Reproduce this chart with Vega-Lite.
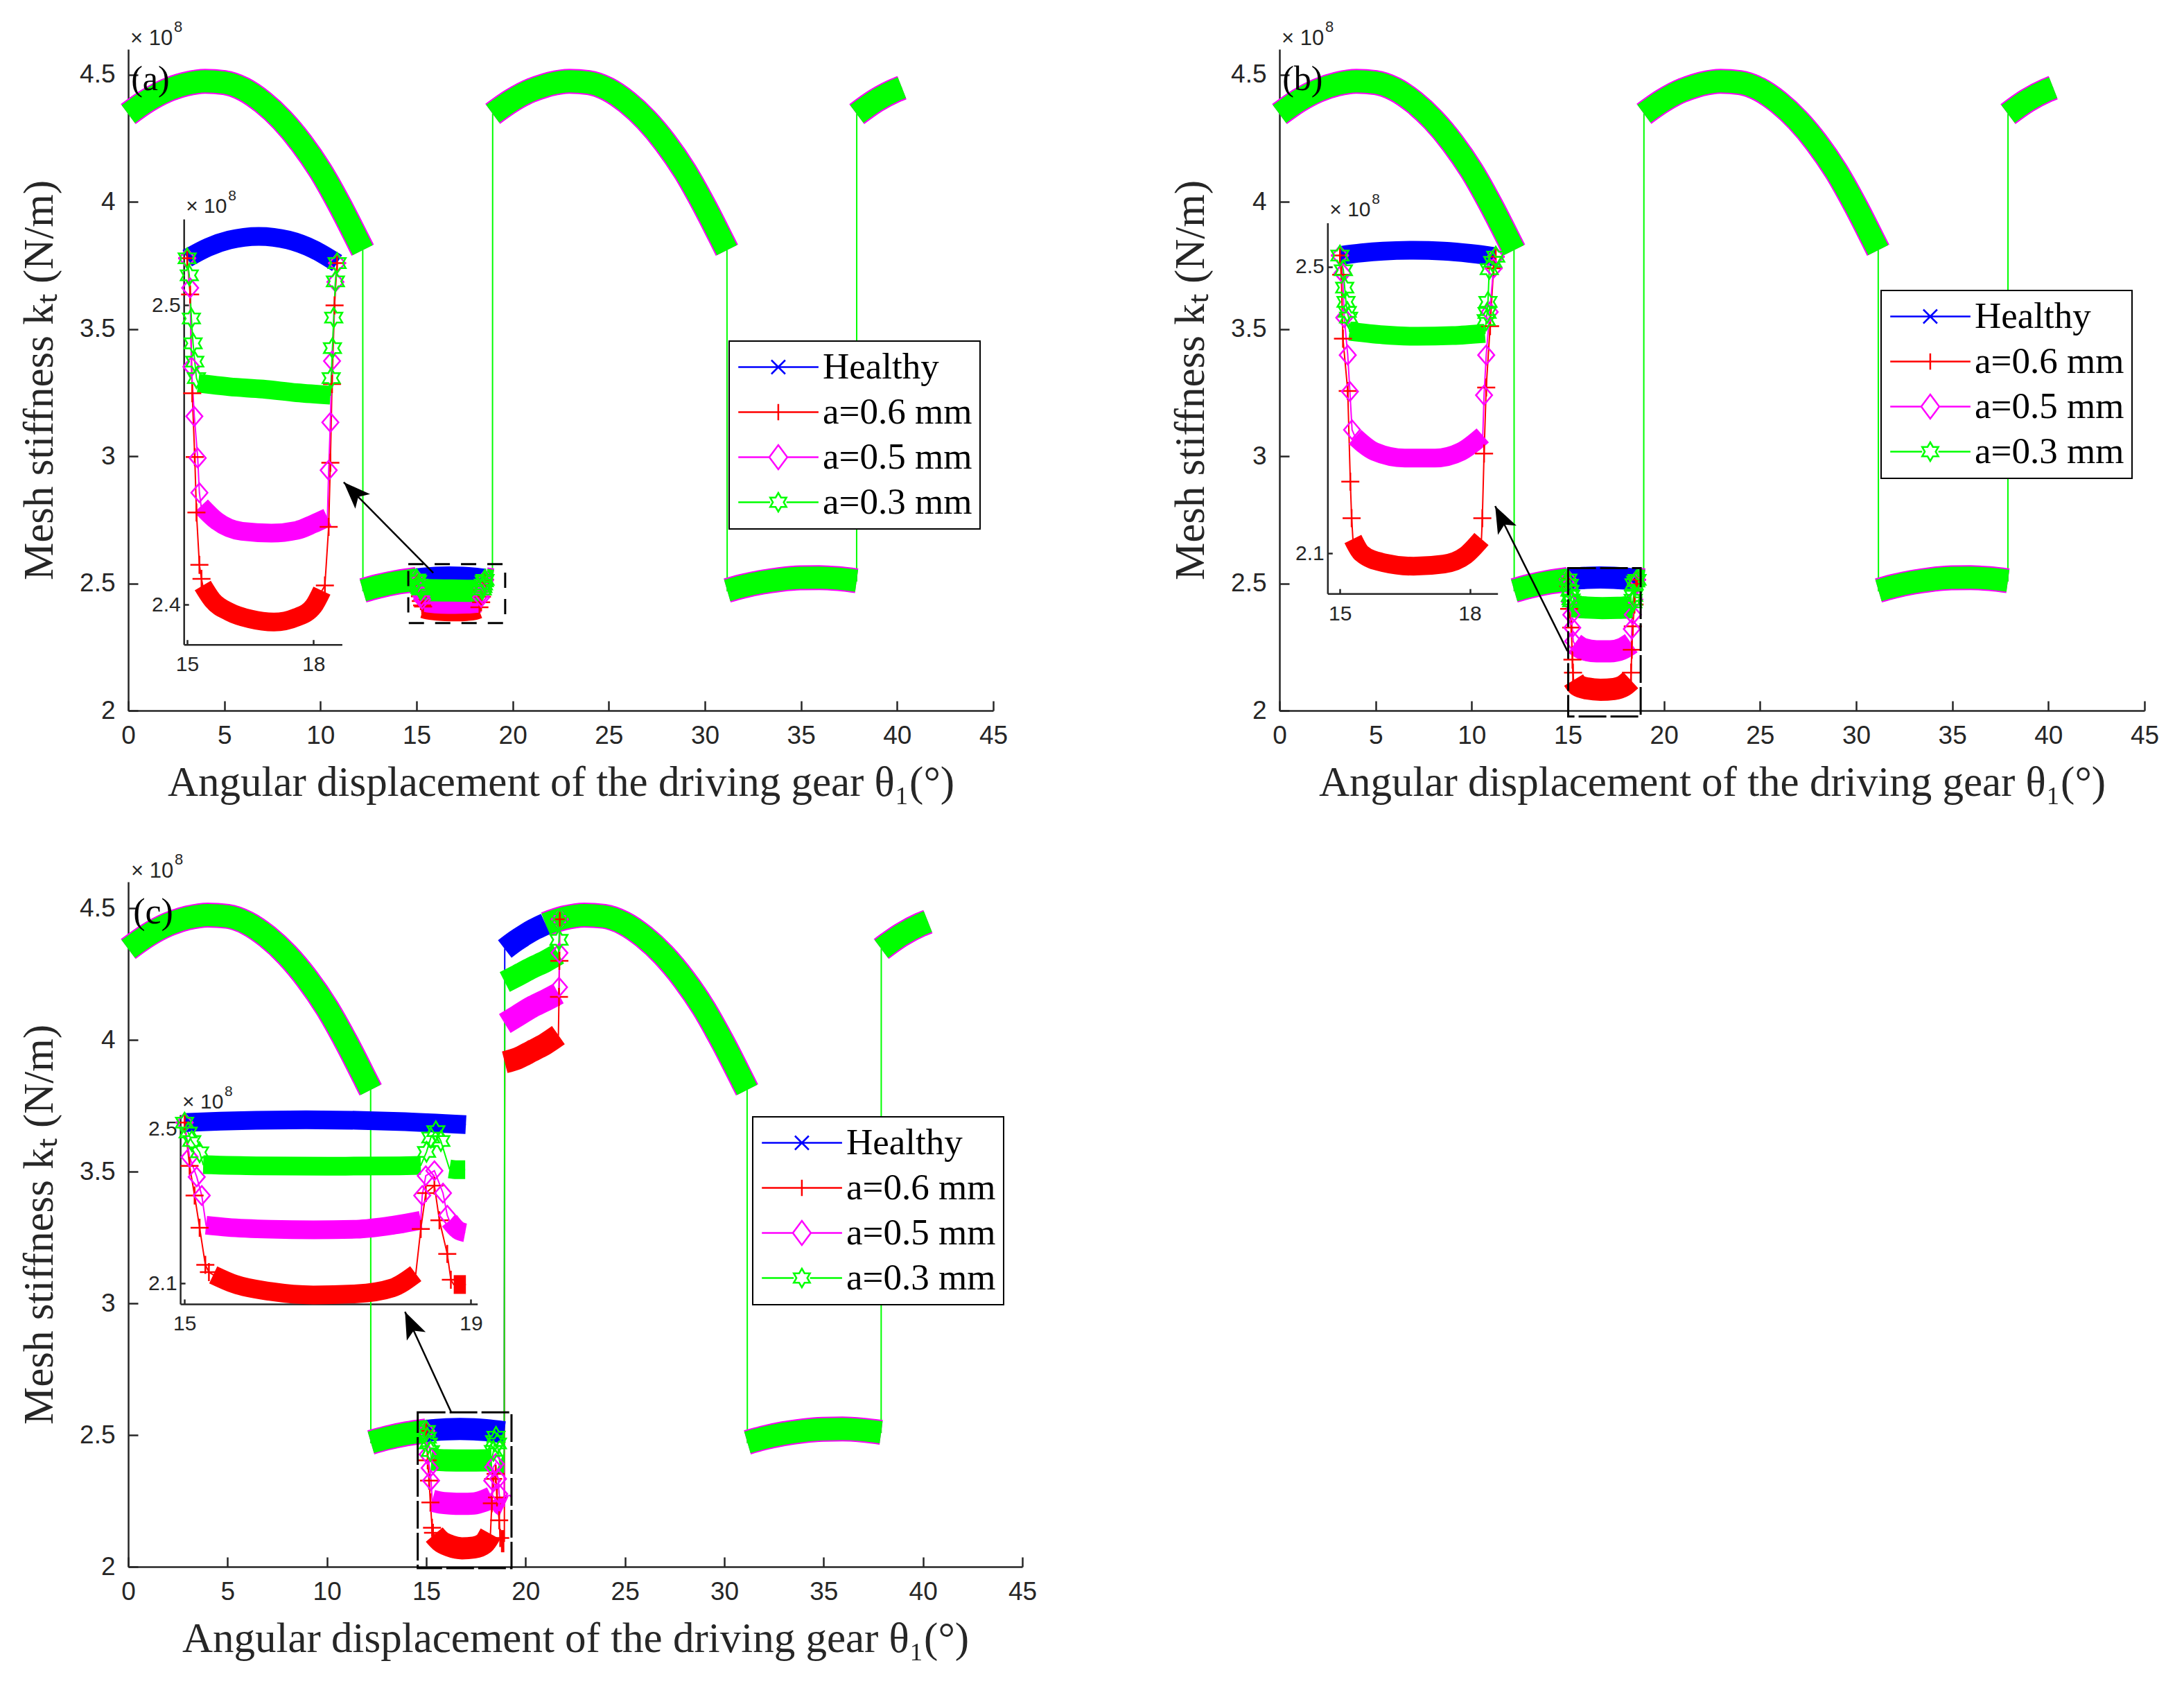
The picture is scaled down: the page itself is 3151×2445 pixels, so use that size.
{
"$schema":"https://vega.github.io/schema/vega-lite/v6.json",
"background":"white",
"padding":{"left":26,"top":28,"right":10,"bottom":10},
"config":{
 "view":{"stroke":null},
 "axis":{"domainColor":"#262626","tickColor":"#262626","labelColor":"#262626","titleColor":"#262626","domainWidth":2.5,"tickWidth":2.5,"labelFont":"Liberation Sans","labelFontSize":37,"titleFont":"Liberation Serif","titleFontSize":61,"titleFontWeight":"normal","grid":false,"labelOverlap":false,"labelFlush":false},
 "legend":{"strokeWidth":2}
},
"datasets":{
"base":[
{"x":0,"y":4.345,"g":1,"p":1},{"x":1,"y":4.398,"g":1,"p":1},{"x":2,"y":4.438,"g":1,"p":1},{"x":3,"y":4.463,"g":1,"p":1},{"x":4,"y":4.474,"g":1,"p":1},{"x":5,"y":4.469,"g":1,"p":1},{"x":6,"y":4.443,"g":1,"p":1},{"x":7,"y":4.392,"g":1,"p":1},{"x":8,"y":4.322,"g":1,"p":1},{"x":9,"y":4.232,"g":1,"p":1},{"x":10,"y":4.122,"g":1,"p":1},{"x":11,"y":3.988,"g":1,"p":1},{"x":12,"y":3.84,"g":1,"p":1},{"x":12.2,"y":3.81,"g":1,"p":1},
{"x":12.21,"y":2.472,"g":2,"p":1},{"x":13,"y":2.4885,"g":2,"p":1},{"x":14,"y":2.5046,"g":2,"p":1},{"x":15,"y":2.5157,"g":2,"p":1},
{"x":18.6,"y":2.5141,"g":3,"p":2},{"x":18.947,"y":2.5103,"g":3,"p":2},
{"x":18.96,"y":4.346,"g":4,"p":2},{"x":19.947,"y":4.398,"g":4,"p":2},{"x":20.947,"y":4.438,"g":4,"p":2},{"x":21,"y":4.4395,"g":4,"p":2},{"x":21.947,"y":4.463,"g":4,"p":2},{"x":22.947,"y":4.474,"g":4,"p":2},{"x":23.947,"y":4.469,"g":4,"p":2},{"x":24.947,"y":4.443,"g":4,"p":2},{"x":25.947,"y":4.392,"g":4,"p":2},{"x":26.947,"y":4.322,"g":4,"p":2},{"x":27.947,"y":4.232,"g":4,"p":2},{"x":28.947,"y":4.122,"g":4,"p":2},{"x":29.947,"y":3.988,"g":4,"p":2},{"x":30.947,"y":3.84,"g":4,"p":2},{"x":31.147,"y":3.81,"g":4,"p":2},
{"x":31.16,"y":2.472,"g":5,"p":2},{"x":31.947,"y":2.4885,"g":5,"p":2},{"x":32.947,"y":2.5046,"g":5,"p":2},{"x":33.947,"y":2.5157,"g":5,"p":2},{"x":34.947,"y":2.5218,"g":5,"p":2},{"x":35.947,"y":2.5228,"g":5,"p":2},{"x":36.947,"y":2.5187,"g":5,"p":2},{"x":37.894,"y":2.5103,"g":5,"p":2},
{"x":37.9,"y":4.345,"g":6,"p":2},{"x":38.894,"y":4.398,"g":6,"p":2},{"x":39.894,"y":4.438,"g":6,"p":2},{"x":40.25,"y":4.449,"g":6,"p":2}
],
"ca":[
{"s":"H","x":15,"y":2.5157,"k":"b","g":1},{"s":"H","x":15.5,"y":2.5194,"k":"b","g":1},{"s":"H","x":16,"y":2.5218,"k":"b","g":1},{"s":"H","x":16.7,"y":2.523,"k":"b","g":1},{"s":"H","x":17.4,"y":2.5218,"k":"b","g":1},{"s":"H","x":18,"y":2.5187,"k":"b","g":1},{"s":"H","x":18.56,"y":2.5141,"k":"b","g":1},
{"s":"0.6","x":15,"y":2.5157,"k":"t"},{"s":"0.6","x":15.07,"y":2.5036,"k":"t"},{"s":"0.6","x":15.12,"y":2.4706,"k":"t"},{"s":"0.6","x":15.18,"y":2.4493,"k":"t"},{"s":"0.6","x":15.22,"y":2.4308,"k":"t"},{"s":"0.6","x":15.29,"y":2.4133,"k":"t"},{"s":"0.6","x":15.34,"y":2.4086,"k":"t"},
{"s":"0.6","x":15.37,"y":2.4064,"k":"b","g":1},{"s":"0.6","x":15.6,"y":2.4015,"k":"b","g":1},{"s":"0.6","x":16,"y":2.3976,"k":"b","g":1},{"s":"0.6","x":16.5,"y":2.3952,"k":"b","g":1},{"s":"0.6","x":17.06,"y":2.3942,"k":"b","g":1},{"s":"0.6","x":17.6,"y":2.3958,"k":"b","g":1},{"s":"0.6","x":18,"y":2.3995,"k":"b","g":1},{"s":"0.6","x":18.2,"y":2.4047,"k":"b","g":1},
{"s":"0.6","x":18.27,"y":2.4064,"k":"t"},{"s":"0.6","x":18.36,"y":2.426,"k":"t"},{"s":"0.6","x":18.4,"y":2.4474,"k":"t"},{"s":"0.6","x":18.44,"y":2.4737,"k":"t"},{"s":"0.6","x":18.5,"y":2.5,"k":"t"},{"s":"0.6","x":18.56,"y":2.5141,"k":"t"},
{"s":"0.5","x":15,"y":2.5157,"k":"t"},{"s":"0.5","x":15.07,"y":2.5058,"k":"t"},{"s":"0.5","x":15.1,"y":2.4795,"k":"t"},{"s":"0.5","x":15.17,"y":2.4629,"k":"t"},{"s":"0.5","x":15.25,"y":2.449,"k":"t"},{"s":"0.5","x":15.29,"y":2.4374,"k":"t"},
{"s":"0.5","x":15.33,"y":2.433,"k":"b","g":1},{"s":"0.5","x":15.7,"y":2.428,"k":"b","g":1},{"s":"0.5","x":16.3,"y":2.4245,"k":"b","g":1},{"s":"0.5","x":17,"y":2.4239,"k":"b","g":1},{"s":"0.5","x":17.6,"y":2.4248,"k":"b","g":1},{"s":"0.5","x":18,"y":2.427,"k":"b","g":1},{"s":"0.5","x":18.33,"y":2.4291,"k":"b","g":1},
{"s":"0.5","x":18.36,"y":2.4449,"k":"t"},{"s":"0.5","x":18.4,"y":2.4609,"k":"t"},{"s":"0.5","x":18.44,"y":2.4814,"k":"t"},{"s":"0.5","x":18.52,"y":2.5078,"k":"t"},{"s":"0.5","x":18.56,"y":2.5141,"k":"t"},
{"s":"0.3","x":15,"y":2.5157,"k":"t"},{"s":"0.3","x":15.05,"y":2.51,"k":"t"},{"s":"0.3","x":15.1,"y":2.4956,"k":"t"},{"s":"0.3","x":15.14,"y":2.4873,"k":"t"},{"s":"0.3","x":15.18,"y":2.4812,"k":"t"},{"s":"0.3","x":15.22,"y":2.4757,"k":"t"},
{"s":"0.3","x":15.26,"y":2.474,"k":"b","g":1},{"s":"0.3","x":16,"y":2.4728,"k":"b","g":1},{"s":"0.3","x":16.8,"y":2.472,"k":"b","g":1},{"s":"0.3","x":17.6,"y":2.4708,"k":"b","g":1},{"s":"0.3","x":18.4,"y":2.47,"k":"b","g":1},
{"s":"0.3","x":18.42,"y":2.4757,"k":"t"},{"s":"0.3","x":18.45,"y":2.4857,"k":"t"},{"s":"0.3","x":18.48,"y":2.4959,"k":"t"},{"s":"0.3","x":18.52,"y":2.508,"k":"t"},{"s":"0.3","x":18.56,"y":2.5141,"k":"t"}
],
"cb":[
{"s":"H","x":15,"y":2.5157,"k":"b","g":1},{"s":"H","x":15.5,"y":2.5194,"k":"b","g":1},{"s":"H","x":16,"y":2.5218,"k":"b","g":1},{"s":"H","x":16.7,"y":2.523,"k":"b","g":1},{"s":"H","x":17.4,"y":2.5218,"k":"b","g":1},{"s":"H","x":18,"y":2.5187,"k":"b","g":1},{"s":"H","x":18.6,"y":2.5141,"k":"b","g":1},
{"s":"0.6","x":15,"y":2.5157,"k":"t"},{"s":"0.6","x":15.03,"y":2.489,"k":"t"},{"s":"0.6","x":15.07,"y":2.3997,"k":"t"},{"s":"0.6","x":15.18,"y":2.3267,"k":"t"},{"s":"0.6","x":15.24,"y":2.2,"k":"t"},{"s":"0.6","x":15.27,"y":2.149,"k":"t"},
{"s":"0.6","x":15.3,"y":2.12,"k":"b","g":1},{"s":"0.6","x":15.5,"y":2.1,"k":"b","g":1},{"s":"0.6","x":16,"y":2.087,"k":"b","g":1},{"s":"0.6","x":16.7,"y":2.082,"k":"b","g":1},{"s":"0.6","x":17.4,"y":2.085,"k":"b","g":1},{"s":"0.6","x":17.9,"y":2.097,"k":"b","g":1},{"s":"0.6","x":18.27,"y":2.12,"k":"b","g":1},
{"s":"0.6","x":18.29,"y":2.149,"k":"t"},{"s":"0.6","x":18.33,"y":2.2392,"k":"t"},{"s":"0.6","x":18.38,"y":2.3314,"k":"t"},{"s":"0.6","x":18.47,"y":2.417,"k":"t"},{"s":"0.6","x":18.55,"y":2.498,"k":"t"},{"s":"0.6","x":18.6,"y":2.5141,"k":"t"},
{"s":"0.5","x":15,"y":2.5157,"k":"t"},{"s":"0.5","x":15.06,"y":2.4912,"k":"t"},{"s":"0.5","x":15.1,"y":2.429,"k":"t"},{"s":"0.5","x":15.18,"y":2.3768,"k":"t"},{"s":"0.5","x":15.23,"y":2.3259,"k":"t"},{"s":"0.5","x":15.28,"y":2.2725,"k":"t"},
{"s":"0.5","x":15.35,"y":2.2625,"k":"b","g":1},{"s":"0.5","x":15.8,"y":2.242,"k":"b","g":1},{"s":"0.5","x":16.5,"y":2.233,"k":"b","g":1},{"s":"0.5","x":17.2,"y":2.233,"k":"b","g":1},{"s":"0.5","x":17.8,"y":2.242,"k":"b","g":1},{"s":"0.5","x":18.3,"y":2.2645,"k":"b","g":1},
{"s":"0.5","x":18.33,"y":2.3207,"k":"t"},{"s":"0.5","x":18.38,"y":2.3768,"k":"t"},{"s":"0.5","x":18.46,"y":2.437,"k":"t"},{"s":"0.5","x":18.55,"y":2.498,"k":"t"},{"s":"0.5","x":18.6,"y":2.5141,"k":"t"},
{"s":"0.3","x":15,"y":2.5157,"k":"t"},{"s":"0.3","x":15.08,"y":2.4952,"k":"t"},{"s":"0.3","x":15.11,"y":2.471,"k":"t"},{"s":"0.3","x":15.14,"y":2.451,"k":"t"},{"s":"0.3","x":15.17,"y":2.437,"k":"t"},{"s":"0.3","x":15.2,"y":2.429,"k":"t"},
{"s":"0.3","x":15.22,"y":2.41,"k":"b","g":1},{"s":"0.3","x":16,"y":2.405,"k":"b","g":1},{"s":"0.3","x":16.8,"y":2.403,"k":"b","g":1},{"s":"0.3","x":17.6,"y":2.404,"k":"b","g":1},{"s":"0.3","x":18.35,"y":2.407,"k":"b","g":1},
{"s":"0.3","x":18.38,"y":2.4256,"k":"t"},{"s":"0.3","x":18.4,"y":2.4356,"k":"t"},{"s":"0.3","x":18.42,"y":2.451,"k":"t"},{"s":"0.3","x":18.45,"y":2.4967,"k":"t"},{"s":"0.3","x":18.53,"y":2.507,"k":"t"},{"s":"0.3","x":18.6,"y":2.5141,"k":"t"}
],
"cc":[
{"s":"H","x":15,"y":2.5157,"k":"b","g":1},{"s":"H","x":15.5,"y":2.5194,"k":"b","g":1},{"s":"H","x":16,"y":2.5218,"k":"b","g":1},{"s":"H","x":16.7,"y":2.523,"k":"b","g":1},{"s":"H","x":17.4,"y":2.5218,"k":"b","g":1},{"s":"H","x":18,"y":2.5187,"k":"b","g":1},{"s":"H","x":18.93,"y":2.5105,"k":"b","g":1},
{"s":"H","x":18.95,"y":4.345,"k":"b","g":2},{"s":"H","x":19.5,"y":4.376,"k":"b","g":2},{"s":"H","x":19.947,"y":4.398,"k":"b","g":2},{"s":"H","x":20.5,"y":4.422,"k":"b","g":2},{"s":"H","x":21,"y":4.4395,"k":"b","g":2},
{"s":"0.6","x":15,"y":2.5157,"k":"t"},{"s":"0.6","x":15.07,"y":2.404,"k":"t"},{"s":"0.6","x":15.14,"y":2.3272,"k":"t"},{"s":"0.6","x":15.21,"y":2.244,"k":"t"},{"s":"0.6","x":15.29,"y":2.148,"k":"t"},{"s":"0.6","x":15.34,"y":2.129,"k":"t"},
{"s":"0.6","x":15.4,"y":2.122,"k":"b","g":1},{"s":"0.6","x":15.7,"y":2.098,"k":"b","g":1},{"s":"0.6","x":16.2,"y":2.079,"k":"b","g":1},{"s":"0.6","x":16.8,"y":2.07,"k":"b","g":1},{"s":"0.6","x":17.4,"y":2.073,"k":"b","g":1},{"s":"0.6","x":17.9,"y":2.088,"k":"b","g":1},{"s":"0.6","x":18.23,"y":2.125,"k":"b","g":1},
{"s":"0.6","x":18.3,"y":2.2408,"k":"t"},{"s":"0.6","x":18.37,"y":2.3335,"k":"t"},{"s":"0.6","x":18.49,"y":2.3529,"k":"t"},{"s":"0.6","x":18.56,"y":2.263,"k":"t"},{"s":"0.6","x":18.67,"y":2.176,"k":"t"},{"s":"0.6","x":18.72,"y":2.1095,"k":"t"},
{"s":"0.6","x":18.76,"y":2.097,"k":"b","g":2},{"s":"0.6","x":18.93,"y":2.097,"k":"b","g":2},
{"s":"0.6","x":18.95,"y":3.915,"k":"b","g":3},{"s":"0.6","x":19.6,"y":3.93,"k":"b","g":3},{"s":"0.6","x":20.3,"y":3.957,"k":"b","g":3},{"s":"0.6","x":21,"y":3.985,"k":"b","g":3},{"s":"0.6","x":21.65,"y":4.018,"k":"b","g":3},
{"s":"0.6","x":21.68,"y":4.163,"k":"t"},{"s":"0.6","x":21.7,"y":4.3,"k":"t"},{"s":"0.6","x":21.72,"y":4.458,"k":"t"},
{"s":"0.5","x":15,"y":2.5157,"k":"t"},{"s":"0.5","x":15.07,"y":2.4265,"k":"t"},{"s":"0.5","x":15.17,"y":2.3753,"k":"t"},{"s":"0.5","x":15.24,"y":2.3272,"k":"t"},
{"s":"0.5","x":15.3,"y":2.2504,"k":"b","g":1},{"s":"0.5","x":15.6,"y":2.245,"k":"b","g":1},{"s":"0.5","x":16.2,"y":2.24,"k":"b","g":1},{"s":"0.5","x":16.8,"y":2.2385,"k":"b","g":1},{"s":"0.5","x":17.4,"y":2.24,"k":"b","g":1},{"s":"0.5","x":17.9,"y":2.25,"k":"b","g":1},{"s":"0.5","x":18.3,"y":2.2633,"k":"b","g":1},
{"s":"0.5","x":18.32,"y":2.3272,"k":"t"},{"s":"0.5","x":18.37,"y":2.3783,"k":"t"},{"s":"0.5","x":18.49,"y":2.3912,"k":"t"},{"s":"0.5","x":18.61,"y":2.3335,"k":"t"},{"s":"0.5","x":18.67,"y":2.276,"k":"t"},
{"s":"0.5","x":18.7,"y":2.262,"k":"b","g":2},{"s":"0.5","x":18.82,"y":2.2376,"k":"b","g":2},{"s":"0.5","x":18.92,"y":2.231,"k":"b","g":2},
{"s":"0.5","x":18.95,"y":4.062,"k":"b","g":3},{"s":"0.5","x":19.6,"y":4.092,"k":"b","g":3},{"s":"0.5","x":20.3,"y":4.124,"k":"b","g":3},{"s":"0.5","x":21,"y":4.15,"k":"b","g":3},{"s":"0.5","x":21.65,"y":4.176,"k":"b","g":3},
{"s":"0.5","x":21.68,"y":4.2,"k":"t"},{"s":"0.5","x":21.7,"y":4.33,"k":"t"},{"s":"0.5","x":21.72,"y":4.458,"k":"t"},
{"s":"0.3","x":15,"y":2.5157,"k":"t"},{"s":"0.3","x":15.05,"y":2.49,"k":"t"},{"s":"0.3","x":15.1,"y":2.468,"k":"t"},{"s":"0.3","x":15.21,"y":2.439,"k":"t"},
{"s":"0.3","x":15.26,"y":2.407,"k":"b","g":1},{"s":"0.3","x":16,"y":2.404,"k":"b","g":1},{"s":"0.3","x":17,"y":2.403,"k":"b","g":1},{"s":"0.3","x":18,"y":2.404,"k":"b","g":1},{"s":"0.3","x":18.3,"y":2.405,"k":"b","g":1},
{"s":"0.3","x":18.38,"y":2.44,"k":"t"},{"s":"0.3","x":18.44,"y":2.477,"k":"t"},{"s":"0.3","x":18.51,"y":2.4935,"k":"t"},{"s":"0.3","x":18.58,"y":2.468,"k":"t"},
{"s":"0.3","x":18.7,"y":2.396,"k":"b","g":2},{"s":"0.3","x":18.8,"y":2.394,"k":"b","g":2},{"s":"0.3","x":18.92,"y":2.394,"k":"b","g":2},
{"s":"0.3","x":18.95,"y":4.22,"k":"b","g":3},{"s":"0.3","x":19.6,"y":4.245,"k":"b","g":3},{"s":"0.3","x":20.3,"y":4.273,"k":"b","g":3},{"s":"0.3","x":21,"y":4.298,"k":"b","g":3},{"s":"0.3","x":21.65,"y":4.326,"k":"b","g":3},
{"s":"0.3","x":21.68,"y":4.38,"k":"t"},{"s":"0.3","x":21.72,"y":4.458,"k":"t"}
],
"ann":[
{"pnl":"a","kind":"box","x":14.57,"x2":19.61,"y":2.344,"y2":2.576},
{"pnl":"a","kind":"arrow","x":11.21,"y":2.898,"x2":15.87,"y2":2.541},
{"pnl":"a","kind":"lab","x":0.15,"y":4.48,"t":"(a)"},
{"pnl":"a","kind":"exp","x":0,"y":4.6,"t":"× 10"},
{"pnl":"a","kind":"iexp","x":14.92,"y":2.5288,"t":"× 10"},
{"pnl":"b","kind":"box","x":15.02,"x2":18.79,"y":1.977,"y2":2.56},
{"pnl":"b","kind":"arrow","x":11.22,"y":2.804,"x2":14.98,"y2":2.234},
{"pnl":"b","kind":"lab","x":0.15,"y":4.48,"t":"(b)"},
{"pnl":"b","kind":"exp","x":0,"y":4.6,"t":"× 10"},
{"pnl":"b","kind":"iexp","x":14.713,"y":2.5614,"t":"× 10"},
{"pnl":"c","kind":"box","x":14.57,"x2":19.29,"y":1.995,"y2":2.586},
{"pnl":"c","kind":"arrow","x":13.93,"y":2.968,"x2":16.27,"y2":2.584},
{"pnl":"c","kind":"lab","x":0.25,"y":4.484,"t":"(c)"},
{"pnl":"c","kind":"exp","x":0,"y":4.6,"t":"× 10"},
{"pnl":"c","kind":"iexp","x":14.94,"y":2.536,"t":"× 10"}
],
"leg":[{"s":"H"},{"s":"0.6"},{"s":"0.5"},{"s":"0.3"}]
},
"bounds":"flush",
"spacing":1201,
"resolve":{"scale":{"color":"independent","shape":"independent"},"legend":{"color":"independent","shape":"independent"}},
"vconcat":[
{"hconcat":[
{
"width":1248,"height":954,
"resolve":{"scale":{"x":"independent","y":"independent","color":"independent","shape":"independent"},"legend":{"color":"independent","shape":"independent"}},
"layer":[
{"encoding":{
 "x":{"field":"x","type":"quantitative","scale":{"domain":[0,45],"nice":false,"zero":false},"axis":{"title":"Angular displacement of the driving gear θ₁(°)","values":[0,5,10,15,20,25,30,35,40,45],"tickSize":-14,"labelPadding":32,"titlePadding":20}},
 "y":{"field":"y","type":"quantitative","scale":{"domain":[2,4.6],"nice":false,"zero":false},"axis":{"title":"Mesh stiffness kₜ (N/m)","values":[2,2.5,3,3.5,4,4.5],"format":".1~f","tickSize":-14,"labelPadding":33,"titlePadding":26}}},
 "layer":[
 {"data":{"name":"base"},"transform":[{"filter":"datum.x <= 15.01 || datum.x >= 18.59"}],"mark":{"type":"line","color":"#00FF00","strokeWidth":2},"encoding":{"detail":{"field":"p","type":"nominal"}}},
 {"data":{"name":"ca"},"mark":{"type":"line","strokeWidth":2},"encoding":{"color":{"field":"s","type":"nominal","scale":{"domain":["H","0.6","0.5","0.3"],"range":["#0000FF","#FF0000","#FF00FF","#00FF00"]},"legend":null}}},
 {"data":{"name":"base"},"transform":[{"filter":"datum.x <= 15.01 || datum.x >= 18.59"}],"mark":{"type":"line","color":"#FF00FF","strokeWidth":36,"interpolate":"monotone","strokeCap":"butt"},"encoding":{"detail":{"field":"g","type":"nominal"}}},
 {"data":{"name":"base"},"transform":[{"filter":"datum.x <= 15.01 || datum.x >= 18.59"}],"mark":{"type":"line","color":"#00FF00","strokeWidth":32,"interpolate":"monotone","strokeCap":"butt"},"encoding":{"detail":{"field":"g","type":"nominal"}}},
 {"data":{"name":"ca"},"transform":[{"filter":"datum.k == 'b'"}],"mark":{"type":"line","strokeWidth":32,"interpolate":"monotone","strokeCap":"butt"},"encoding":{"color":{"field":"s","type":"nominal","scale":{"domain":["H","0.6","0.5","0.3"],"range":["#0000FF","#FF0000","#FF00FF","#00FF00"]},"legend":null},"detail":{"field":"g","type":"nominal"}}},
 {"data":{"name":"ca"},"transform":[{"filter":"datum.k == 't'"}],"mark":{"type":"point","filled":false,"size":676,"strokeWidth":2.5,"opacity":1},"encoding":{"color":{"field":"s","type":"nominal","scale":{"domain":["H","0.6","0.5","0.3"],"range":["#0000FF","#FF0000","#FF00FF","#00FF00"]},"legend":null},"shape":{"field":"s","type":"nominal","scale":{"domain":["H","0.6","0.5","0.3"],"range":["M-1,-1L1,1M-1,1L1,-1","M-1,0L1,0M0,-1L0,1","M0,-1.05L0.9,0L0,1.05L-0.9,0Z","M0,-1.1L0.318,-0.55L0.953,-0.55L0.635,0L0.953,0.55L0.318,0.55L0,1.1L-0.318,0.55L-0.953,0.55L-0.635,0L-0.953,-0.55L-0.318,-0.55Z"]},"legend":null}}},
 {"data":{"name":"ann"},"transform":[{"filter":"datum.pnl == 'a' && datum.kind == 'box'"}],"mark":{"type":"rect","filled":false,"color":"#000000","strokeWidth":3,"strokeDash":[22,16]},"encoding":{"x2":{"field":"x2"},"y2":{"field":"y2"}}},
 {"data":{"name":"ann"},"transform":[{"filter":"datum.pnl == 'a' && datum.kind == 'arrow'"}],"mark":{"type":"rule","color":"#000000","strokeWidth":2.5},"encoding":{"x2":{"field":"x2"},"y2":{"field":"y2"}}},
 {"data":{"name":"ann"},"transform":[{"filter":"datum.pnl == 'a' && datum.kind == 'arrow'"}],"mark":{"type":"point","shape":"M0,0L1,2.6L0,2L-1,2.6Z","filled":true,"color":"#000000","size":900,"angle":315.4,"opacity":1}},
 {"data":{"name":"ann"},"transform":[{"filter":"datum.pnl == 'a' && datum.kind == 'lab'"}],"mark":{"type":"text","font":"Liberation Serif","fontSize":50,"align":"left","baseline":"middle","color":"#000000"},"encoding":{"text":{"field":"t","type":"nominal"}}},
 {"data":{"name":"ann"},"transform":[{"filter":"datum.pnl == 'a' && datum.kind == 'exp'"}],"mark":{"type":"text","font":"Liberation Sans","fontSize":31,"align":"left","baseline":"alphabetic","dx":3,"dy":-6,"color":"#262626"},"encoding":{"text":{"field":"t","type":"nominal"}}},
 {"data":{"name":"ann"},"transform":[{"filter":"datum.pnl == 'a' && datum.kind == 'exp'"}],"mark":{"type":"text","font":"Liberation Sans","fontSize":22,"align":"left","baseline":"alphabetic","dx":66,"dy":-25,"color":"#262626"},"encoding":{"text":{"value":"8"}}}
 ]},
{"encoding":{
 "x":{"field":"x","type":"quantitative","scale":{"domain":[14.92,18.676],"range":[80.2,308.4],"nice":false,"zero":false},"axis":{"orient":"bottom","offset":-95.3,"values":[15,18],"title":null,"tickSize":-7,"labelPadding":21,"labelFontSize":30}},
 "y":{"field":"y","type":"quantitative","scale":{"domain":[2.3867,2.5288],"range":[858.7,245],"nice":false,"zero":false},"axis":{"orient":"left","offset":-80.2,"values":[2.4,2.5],"format":".1f","title":null,"tickSize":-7,"labelPadding":12,"labelFontSize":30}}},
 "layer":[
 {"data":{"name":"ca"},"mark":{"type":"line","strokeWidth":2},"encoding":{"color":{"field":"s","type":"nominal","scale":{"domain":["H","0.6","0.5","0.3"],"range":["#0000FF","#FF0000","#FF00FF","#00FF00"]},"legend":null}}},
 {"data":{"name":"ca"},"transform":[{"filter":"datum.k == 'b'"}],"mark":{"type":"line","strokeWidth":27,"interpolate":"monotone","strokeCap":"butt"},"encoding":{"color":{"field":"s","type":"nominal","scale":{"domain":["H","0.6","0.5","0.3"],"range":["#0000FF","#FF0000","#FF00FF","#00FF00"]},"legend":null},"detail":{"field":"g","type":"nominal"}}},
 {"data":{"name":"ca"},"transform":[{"filter":"datum.k == 't'"}],"mark":{"type":"point","filled":false,"size":676,"strokeWidth":2.5,"opacity":1},"encoding":{"color":{"field":"s","type":"nominal","scale":{"domain":["H","0.6","0.5","0.3"],"range":["#0000FF","#FF0000","#FF00FF","#00FF00"]},"legend":null},"shape":{"field":"s","type":"nominal","scale":{"domain":["H","0.6","0.5","0.3"],"range":["M-1,-1L1,1M-1,1L1,-1","M-1,0L1,0M0,-1L0,1","M0,-1.05L0.9,0L0,1.05L-0.9,0Z","M0,-1.1L0.318,-0.55L0.953,-0.55L0.635,0L0.953,0.55L0.318,0.55L0,1.1L-0.318,0.55L-0.953,0.55L-0.635,0L-0.953,-0.55L-0.318,-0.55Z"]},"legend":null}}},
 {"data":{"name":"ann"},"transform":[{"filter":"datum.pnl == 'a' && datum.kind == 'iexp'"}],"mark":{"type":"text","font":"Liberation Sans","fontSize":30,"align":"left","baseline":"alphabetic","dx":3,"dy":-9,"color":"#262626"},"encoding":{"text":{"field":"t","type":"nominal"}}},
 {"data":{"name":"ann"},"transform":[{"filter":"datum.pnl == 'a' && datum.kind == 'iexp'"}],"mark":{"type":"text","font":"Liberation Sans","fontSize":21,"align":"left","baseline":"alphabetic","dx":64,"dy":-27,"color":"#262626"},"encoding":{"text":{"value":"8"}}}
 ]},
{"data":{"name":"leg"},"mark":{"type":"point","filled":false,"opacity":0},
 "encoding":{
 "color":{"field":"s","type":"nominal","scale":{"domain":["H","0.6","0.5","0.3"],"range":["#0000FF","#FF0000","#FF00FF","#00FF00"]},"legend":{"orient":"none","legendX":867,"legendY":421,"direction":"vertical","title":null,"symbolSize":400,"symbolStrokeWidth":2.5,"symbolOpacity":1,"labelFont":"Liberation Serif","labelFontSize":53,"labelColor":"#000000","labelOffset":71,"labelLimit":1000,"padding":11,"rowPadding":11,"strokeColor":"#000000","fillColor":"#ffffff","labelExpr":"datum.label == 'H' ? 'Healthy' : 'a=' + datum.label + ' mm'"}},
 "shape":{"field":"s","type":"nominal","scale":{"domain":["H","0.6","0.5","0.3"],"range":["M-2.43,0H9.14M2.34,-1L4.34,1M2.34,1L4.34,-1","M-2.43,0H9.14M3.34,-1.17V1.17M2.17,0H4.51","M-2.43,0H2.04M4.64,0H9.14M3.34,-1.75L4.64,0L3.34,1.75L2.04,0Z","M-2.43,0H2.17M4.51,0H9.14M3.34,-1.35L3.73,-0.675L4.51,-0.675L4.12,0L4.51,0.675L3.73,0.675L3.34,1.35L2.95,0.675L2.17,0.675L2.56,0L2.17,-0.675L2.95,-0.675Z"]},"legend":{"orient":"none","legendX":867,"legendY":421,"direction":"vertical","title":null,"symbolSize":400,"symbolStrokeWidth":2.5,"symbolOpacity":1,"labelFont":"Liberation Serif","labelFontSize":53,"labelColor":"#000000","labelOffset":71,"labelLimit":1000,"padding":11,"rowPadding":11,"strokeColor":"#000000","fillColor":"#ffffff","labelExpr":"datum.label == 'H' ? 'Healthy' : 'a=' + datum.label + ' mm'"}}}}
]
},
{
"width":1248,"height":954,
"resolve":{"scale":{"x":"independent","y":"independent","color":"independent","shape":"independent"},"legend":{"color":"independent","shape":"independent"}},
"layer":[
{"encoding":{
 "x":{"field":"x","type":"quantitative","scale":{"domain":[0,45],"nice":false,"zero":false},"axis":{"title":"Angular displacement of the driving gear θ₁(°)","values":[0,5,10,15,20,25,30,35,40,45],"tickSize":-14,"labelPadding":32,"titlePadding":20}},
 "y":{"field":"y","type":"quantitative","scale":{"domain":[2,4.6],"nice":false,"zero":false},"axis":{"title":"Mesh stiffness kₜ (N/m)","values":[2,2.5,3,3.5,4,4.5],"format":".1~f","tickSize":-14,"labelPadding":33,"titlePadding":26}}},
 "layer":[
 {"data":{"name":"base"},"transform":[{"filter":"datum.x <= 15.01 || datum.x >= 18.59"}],"mark":{"type":"line","color":"#00FF00","strokeWidth":2},"encoding":{"detail":{"field":"p","type":"nominal"}}},
 {"data":{"name":"cb"},"mark":{"type":"line","strokeWidth":2},"encoding":{"color":{"field":"s","type":"nominal","scale":{"domain":["H","0.6","0.5","0.3"],"range":["#0000FF","#FF0000","#FF00FF","#00FF00"]},"legend":null}}},
 {"data":{"name":"base"},"transform":[{"filter":"datum.x <= 15.01 || datum.x >= 18.59"}],"mark":{"type":"line","color":"#FF00FF","strokeWidth":36,"interpolate":"monotone","strokeCap":"butt"},"encoding":{"detail":{"field":"g","type":"nominal"}}},
 {"data":{"name":"base"},"transform":[{"filter":"datum.x <= 15.01 || datum.x >= 18.59"}],"mark":{"type":"line","color":"#00FF00","strokeWidth":32,"interpolate":"monotone","strokeCap":"butt"},"encoding":{"detail":{"field":"g","type":"nominal"}}},
 {"data":{"name":"cb"},"transform":[{"filter":"datum.k == 'b'"}],"mark":{"type":"line","strokeWidth":32,"interpolate":"monotone","strokeCap":"butt"},"encoding":{"color":{"field":"s","type":"nominal","scale":{"domain":["H","0.6","0.5","0.3"],"range":["#0000FF","#FF0000","#FF00FF","#00FF00"]},"legend":null},"detail":{"field":"g","type":"nominal"}}},
 {"data":{"name":"cb"},"transform":[{"filter":"datum.k == 't'"}],"mark":{"type":"point","filled":false,"size":676,"strokeWidth":2.5,"opacity":1},"encoding":{"color":{"field":"s","type":"nominal","scale":{"domain":["H","0.6","0.5","0.3"],"range":["#0000FF","#FF0000","#FF00FF","#00FF00"]},"legend":null},"shape":{"field":"s","type":"nominal","scale":{"domain":["H","0.6","0.5","0.3"],"range":["M-1,-1L1,1M-1,1L1,-1","M-1,0L1,0M0,-1L0,1","M0,-1.05L0.9,0L0,1.05L-0.9,0Z","M0,-1.1L0.318,-0.55L0.953,-0.55L0.635,0L0.953,0.55L0.318,0.55L0,1.1L-0.318,0.55L-0.953,0.55L-0.635,0L-0.953,-0.55L-0.318,-0.55Z"]},"legend":null}}},
 {"data":{"name":"ann"},"transform":[{"filter":"datum.pnl == 'b' && datum.kind == 'box'"}],"mark":{"type":"rect","filled":false,"color":"#000000","strokeWidth":3,"strokeDash":[40,6]},"encoding":{"x2":{"field":"x2"},"y2":{"field":"y2"}}},
 {"data":{"name":"ann"},"transform":[{"filter":"datum.pnl == 'b' && datum.kind == 'arrow'"}],"mark":{"type":"rule","color":"#000000","strokeWidth":2.5},"encoding":{"x2":{"field":"x2"},"y2":{"field":"y2"}}},
 {"data":{"name":"ann"},"transform":[{"filter":"datum.pnl == 'b' && datum.kind == 'arrow'"}],"mark":{"type":"point","shape":"M0,0L1,2.6L0,2L-1,2.6Z","filled":true,"color":"#000000","size":900,"angle":333.5,"opacity":1}},
 {"data":{"name":"ann"},"transform":[{"filter":"datum.pnl == 'b' && datum.kind == 'lab'"}],"mark":{"type":"text","font":"Liberation Serif","fontSize":50,"align":"left","baseline":"middle","color":"#000000"},"encoding":{"text":{"field":"t","type":"nominal"}}},
 {"data":{"name":"ann"},"transform":[{"filter":"datum.pnl == 'b' && datum.kind == 'exp'"}],"mark":{"type":"text","font":"Liberation Sans","fontSize":31,"align":"left","baseline":"alphabetic","dx":3,"dy":-6,"color":"#262626"},"encoding":{"text":{"field":"t","type":"nominal"}}},
 {"data":{"name":"ann"},"transform":[{"filter":"datum.pnl == 'b' && datum.kind == 'exp'"}],"mark":{"type":"text","font":"Liberation Sans","fontSize":22,"align":"left","baseline":"alphabetic","dx":66,"dy":-25,"color":"#262626"},"encoding":{"text":{"value":"8"}}}
 ]},
{"encoding":{
 "x":{"field":"x","type":"quantitative","scale":{"domain":[14.713,18.643],"range":[69.3,314.7],"nice":false,"zero":false},"axis":{"orient":"bottom","offset":-168.8,"values":[15,18],"title":null,"tickSize":-7,"labelPadding":21,"labelFontSize":30}},
 "y":{"field":"y","type":"quantitative","scale":{"domain":[2.0438,2.5614],"range":[785.2,250.4],"nice":false,"zero":false},"axis":{"orient":"left","offset":-69.3,"values":[2.1,2.5],"format":".1f","title":null,"tickSize":-7,"labelPadding":12,"labelFontSize":30}}},
 "layer":[
 {"data":{"name":"cb"},"mark":{"type":"line","strokeWidth":2},"encoding":{"color":{"field":"s","type":"nominal","scale":{"domain":["H","0.6","0.5","0.3"],"range":["#0000FF","#FF0000","#FF00FF","#00FF00"]},"legend":null}}},
 {"data":{"name":"cb"},"transform":[{"filter":"datum.k == 'b'"}],"mark":{"type":"line","strokeWidth":27,"interpolate":"monotone","strokeCap":"butt"},"encoding":{"color":{"field":"s","type":"nominal","scale":{"domain":["H","0.6","0.5","0.3"],"range":["#0000FF","#FF0000","#FF00FF","#00FF00"]},"legend":null},"detail":{"field":"g","type":"nominal"}}},
 {"data":{"name":"cb"},"transform":[{"filter":"datum.k == 't'"}],"mark":{"type":"point","filled":false,"size":676,"strokeWidth":2.5,"opacity":1},"encoding":{"color":{"field":"s","type":"nominal","scale":{"domain":["H","0.6","0.5","0.3"],"range":["#0000FF","#FF0000","#FF00FF","#00FF00"]},"legend":null},"shape":{"field":"s","type":"nominal","scale":{"domain":["H","0.6","0.5","0.3"],"range":["M-1,-1L1,1M-1,1L1,-1","M-1,0L1,0M0,-1L0,1","M0,-1.05L0.9,0L0,1.05L-0.9,0Z","M0,-1.1L0.318,-0.55L0.953,-0.55L0.635,0L0.953,0.55L0.318,0.55L0,1.1L-0.318,0.55L-0.953,0.55L-0.635,0L-0.953,-0.55L-0.318,-0.55Z"]},"legend":null}}},
 {"data":{"name":"ann"},"transform":[{"filter":"datum.pnl == 'b' && datum.kind == 'iexp'"}],"mark":{"type":"text","font":"Liberation Sans","fontSize":30,"align":"left","baseline":"alphabetic","dx":3,"dy":-9,"color":"#262626"},"encoding":{"text":{"field":"t","type":"nominal"}}},
 {"data":{"name":"ann"},"transform":[{"filter":"datum.pnl == 'b' && datum.kind == 'iexp'"}],"mark":{"type":"text","font":"Liberation Sans","fontSize":21,"align":"left","baseline":"alphabetic","dx":64,"dy":-27,"color":"#262626"},"encoding":{"text":{"value":"8"}}}
 ]},
{"data":{"name":"leg"},"mark":{"type":"point","filled":false,"opacity":0},
 "encoding":{
 "color":{"field":"s","type":"nominal","scale":{"domain":["H","0.6","0.5","0.3"],"range":["#0000FF","#FF0000","#FF00FF","#00FF00"]},"legend":{"orient":"none","legendX":868,"legendY":348,"direction":"vertical","title":null,"symbolSize":400,"symbolStrokeWidth":2.5,"symbolOpacity":1,"labelFont":"Liberation Serif","labelFontSize":53,"labelColor":"#000000","labelOffset":71,"labelLimit":1000,"padding":11,"rowPadding":11,"strokeColor":"#000000","fillColor":"#ffffff","labelExpr":"datum.label == 'H' ? 'Healthy' : 'a=' + datum.label + ' mm'"}},
 "shape":{"field":"s","type":"nominal","scale":{"domain":["H","0.6","0.5","0.3"],"range":["M-2.43,0H9.14M2.34,-1L4.34,1M2.34,1L4.34,-1","M-2.43,0H9.14M3.34,-1.17V1.17M2.17,0H4.51","M-2.43,0H2.04M4.64,0H9.14M3.34,-1.75L4.64,0L3.34,1.75L2.04,0Z","M-2.43,0H2.17M4.51,0H9.14M3.34,-1.35L3.73,-0.675L4.51,-0.675L4.12,0L4.51,0.675L3.73,0.675L3.34,1.35L2.95,0.675L2.17,0.675L2.56,0L2.17,-0.675L2.95,-0.675Z"]},"legend":{"orient":"none","legendX":868,"legendY":348,"direction":"vertical","title":null,"symbolSize":400,"symbolStrokeWidth":2.5,"symbolOpacity":1,"labelFont":"Liberation Serif","labelFontSize":53,"labelColor":"#000000","labelOffset":71,"labelLimit":1000,"padding":11,"rowPadding":11,"strokeColor":"#000000","fillColor":"#ffffff","labelExpr":"datum.label == 'H' ? 'Healthy' : 'a=' + datum.label + ' mm'"}}}}
]
}
],"spacing":413,"bounds":"flush","resolve":{"scale":{"color":"independent","shape":"independent"},"legend":{"color":"independent","shape":"independent"}}},
{
"width":1290,"height":988,
"resolve":{"scale":{"x":"independent","y":"independent","color":"independent","shape":"independent"},"legend":{"color":"independent","shape":"independent"}},
"layer":[
{"encoding":{
 "x":{"field":"x","type":"quantitative","scale":{"domain":[0,45],"nice":false,"zero":false},"axis":{"title":"Angular displacement of the driving gear θ₁(°)","values":[0,5,10,15,20,25,30,35,40,45],"tickSize":-14,"labelPadding":32,"titlePadding":20}},
 "y":{"field":"y","type":"quantitative","scale":{"domain":[2,4.6],"nice":false,"zero":false},"axis":{"title":"Mesh stiffness kₜ (N/m)","values":[2,2.5,3,3.5,4,4.5],"format":".1~f","tickSize":-14,"labelPadding":33,"titlePadding":26}}},
 "layer":[
 {"data":{"name":"base"},"transform":[{"filter":"datum.x <= 15.01 || datum.x >= 20.99"}],"mark":{"type":"line","color":"#00FF00","strokeWidth":2},"encoding":{"detail":{"field":"p","type":"nominal"}}},
 {"data":{"name":"cc"},"mark":{"type":"line","strokeWidth":2},"encoding":{"color":{"field":"s","type":"nominal","scale":{"domain":["H","0.6","0.5","0.3"],"range":["#0000FF","#FF0000","#FF00FF","#00FF00"]},"legend":null}}},
 {"data":{"name":"base"},"transform":[{"filter":"datum.x <= 15.01 || datum.x >= 20.99"}],"mark":{"type":"line","color":"#FF00FF","strokeWidth":36,"interpolate":"monotone","strokeCap":"butt"},"encoding":{"detail":{"field":"g","type":"nominal"}}},
 {"data":{"name":"base"},"transform":[{"filter":"datum.x <= 15.01 || datum.x >= 20.99"}],"mark":{"type":"line","color":"#00FF00","strokeWidth":32,"interpolate":"monotone","strokeCap":"butt"},"encoding":{"detail":{"field":"g","type":"nominal"}}},
 {"data":{"name":"cc"},"transform":[{"filter":"datum.k == 'b'"}],"mark":{"type":"line","strokeWidth":32,"interpolate":"monotone","strokeCap":"butt"},"encoding":{"color":{"field":"s","type":"nominal","scale":{"domain":["H","0.6","0.5","0.3"],"range":["#0000FF","#FF0000","#FF00FF","#00FF00"]},"legend":null},"detail":{"field":"g","type":"nominal"}}},
 {"data":{"name":"cc"},"transform":[{"filter":"datum.k == 't'"}],"mark":{"type":"point","filled":false,"size":676,"strokeWidth":2.5,"opacity":1},"encoding":{"color":{"field":"s","type":"nominal","scale":{"domain":["H","0.6","0.5","0.3"],"range":["#0000FF","#FF0000","#FF00FF","#00FF00"]},"legend":null},"shape":{"field":"s","type":"nominal","scale":{"domain":["H","0.6","0.5","0.3"],"range":["M-1,-1L1,1M-1,1L1,-1","M-1,0L1,0M0,-1L0,1","M0,-1.05L0.9,0L0,1.05L-0.9,0Z","M0,-1.1L0.318,-0.55L0.953,-0.55L0.635,0L0.953,0.55L0.318,0.55L0,1.1L-0.318,0.55L-0.953,0.55L-0.635,0L-0.953,-0.55L-0.318,-0.55Z"]},"legend":null}}},
 {"data":{"name":"ann"},"transform":[{"filter":"datum.pnl == 'c' && datum.kind == 'box'"}],"mark":{"type":"rect","filled":false,"color":"#000000","strokeWidth":3,"strokeDash":[40,6]},"encoding":{"x2":{"field":"x2"},"y2":{"field":"y2"}}},
 {"data":{"name":"ann"},"transform":[{"filter":"datum.pnl == 'c' && datum.kind == 'arrow'"}],"mark":{"type":"rule","color":"#000000","strokeWidth":2.5},"encoding":{"x2":{"field":"x2"},"y2":{"field":"y2"}}},
 {"data":{"name":"ann"},"transform":[{"filter":"datum.pnl == 'c' && datum.kind == 'arrow'"}],"mark":{"type":"point","shape":"M0,0L1,2.6L0,2L-1,2.6Z","filled":true,"color":"#000000","size":900,"angle":335.4,"opacity":1}},
 {"data":{"name":"ann"},"transform":[{"filter":"datum.pnl == 'c' && datum.kind == 'lab'"}],"mark":{"type":"text","font":"Liberation Serif","fontSize":52,"align":"left","baseline":"middle","color":"#000000"},"encoding":{"text":{"field":"t","type":"nominal"}}},
 {"data":{"name":"ann"},"transform":[{"filter":"datum.pnl == 'c' && datum.kind == 'exp'"}],"mark":{"type":"text","font":"Liberation Sans","fontSize":31,"align":"left","baseline":"alphabetic","dx":4,"dy":-6,"color":"#262626"},"encoding":{"text":{"field":"t","type":"nominal"}}},
 {"data":{"name":"ann"},"transform":[{"filter":"datum.pnl == 'c' && datum.kind == 'exp'"}],"mark":{"type":"text","font":"Liberation Sans","fontSize":22,"align":"left","baseline":"alphabetic","dx":67,"dy":-25,"color":"#262626"},"encoding":{"text":{"value":"8"}}}
 ]},
{"encoding":{
 "x":{"field":"x","type":"quantitative","scale":{"domain":[14.94,19.09],"range":[75.1,503.7],"nice":false,"zero":false},"axis":{"orient":"bottom","offset":-379.1,"values":[15,19],"title":null,"tickSize":-7,"labelPadding":21,"labelFontSize":30}},
 "y":{"field":"y","type":"quantitative","scale":{"domain":[2.0468,2.536],"range":[608.9,336],"nice":false,"zero":false},"axis":{"orient":"left","offset":-75.1,"values":[2.1,2.5],"format":".1f","title":null,"tickSize":-7,"labelPadding":12,"labelFontSize":30}}},
 "layer":[
 {"data":{"name":"cc"},"transform":[{"filter":"datum.y < 2.6"}],"mark":{"type":"line","strokeWidth":2},"encoding":{"color":{"field":"s","type":"nominal","scale":{"domain":["H","0.6","0.5","0.3"],"range":["#0000FF","#FF0000","#FF00FF","#00FF00"]},"legend":null}}},
 {"data":{"name":"cc"},"transform":[{"filter":"datum.y < 2.6 && datum.k == 'b'"}],"mark":{"type":"line","strokeWidth":27,"interpolate":"monotone","strokeCap":"butt"},"encoding":{"color":{"field":"s","type":"nominal","scale":{"domain":["H","0.6","0.5","0.3"],"range":["#0000FF","#FF0000","#FF00FF","#00FF00"]},"legend":null},"detail":{"field":"g","type":"nominal"}}},
 {"data":{"name":"cc"},"transform":[{"filter":"datum.y < 2.6 && datum.k == 't'"}],"mark":{"type":"point","filled":false,"size":676,"strokeWidth":2.5,"opacity":1},"encoding":{"color":{"field":"s","type":"nominal","scale":{"domain":["H","0.6","0.5","0.3"],"range":["#0000FF","#FF0000","#FF00FF","#00FF00"]},"legend":null},"shape":{"field":"s","type":"nominal","scale":{"domain":["H","0.6","0.5","0.3"],"range":["M-1,-1L1,1M-1,1L1,-1","M-1,0L1,0M0,-1L0,1","M0,-1.05L0.9,0L0,1.05L-0.9,0Z","M0,-1.1L0.318,-0.55L0.953,-0.55L0.635,0L0.953,0.55L0.318,0.55L0,1.1L-0.318,0.55L-0.953,0.55L-0.635,0L-0.953,-0.55L-0.318,-0.55Z"]},"legend":null}}},
 {"data":{"name":"ann"},"transform":[{"filter":"datum.pnl == 'c' && datum.kind == 'iexp'"}],"mark":{"type":"text","font":"Liberation Sans","fontSize":30,"align":"left","baseline":"alphabetic","dx":3,"dy":-9,"color":"#262626"},"encoding":{"text":{"field":"t","type":"nominal"}}},
 {"data":{"name":"ann"},"transform":[{"filter":"datum.pnl == 'c' && datum.kind == 'iexp'"}],"mark":{"type":"text","font":"Liberation Sans","fontSize":21,"align":"left","baseline":"alphabetic","dx":64,"dy":-27,"color":"#262626"},"encoding":{"text":{"value":"8"}}}
 ]},
{"data":{"name":"leg"},"mark":{"type":"point","filled":false,"opacity":0},
 "encoding":{
 "color":{"field":"s","type":"nominal","scale":{"domain":["H","0.6","0.5","0.3"],"range":["#0000FF","#FF0000","#FF00FF","#00FF00"]},"legend":{"orient":"none","legendX":901,"legendY":339,"direction":"vertical","title":null,"symbolSize":400,"symbolStrokeWidth":2.5,"symbolOpacity":1,"labelFont":"Liberation Serif","labelFontSize":53,"labelColor":"#000000","labelOffset":71,"labelLimit":1000,"padding":11,"rowPadding":11,"strokeColor":"#000000","fillColor":"#ffffff","labelExpr":"datum.label == 'H' ? 'Healthy' : 'a=' + datum.label + ' mm'"}},
 "shape":{"field":"s","type":"nominal","scale":{"domain":["H","0.6","0.5","0.3"],"range":["M-2.43,0H9.14M2.34,-1L4.34,1M2.34,1L4.34,-1","M-2.43,0H9.14M3.34,-1.17V1.17M2.17,0H4.51","M-2.43,0H2.04M4.64,0H9.14M3.34,-1.75L4.64,0L3.34,1.75L2.04,0Z","M-2.43,0H2.17M4.51,0H9.14M3.34,-1.35L3.73,-0.675L4.51,-0.675L4.12,0L4.51,0.675L3.73,0.675L3.34,1.35L2.95,0.675L2.17,0.675L2.56,0L2.17,-0.675L2.95,-0.675Z"]},"legend":{"orient":"none","legendX":901,"legendY":339,"direction":"vertical","title":null,"symbolSize":400,"symbolStrokeWidth":2.5,"symbolOpacity":1,"labelFont":"Liberation Serif","labelFontSize":53,"labelColor":"#000000","labelOffset":71,"labelLimit":1000,"padding":11,"rowPadding":11,"strokeColor":"#000000","fillColor":"#ffffff","labelExpr":"datum.label == 'H' ? 'Healthy' : 'a=' + datum.label + ' mm'"}}}}
]
}
]
}
